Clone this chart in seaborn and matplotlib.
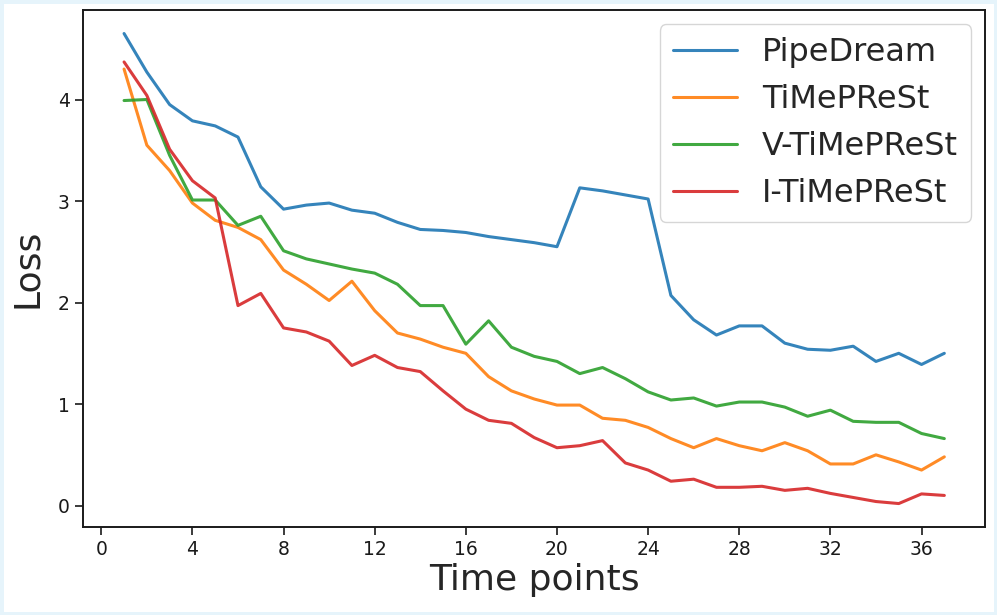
import numpy as np
import pandas as pd
import seaborn as sns
import matplotlib.pyplot as plt
from matplotlib.patches import Rectangle

# values, time points 1..37
time_points = list(range(1, 38))
pipedream = [4.65, 4.27, 3.95, 3.79, 3.74, 3.63, 3.14, 2.92, 2.96, 2.98,
             2.91, 2.88, 2.79, 2.72, 2.71, 2.69, 2.65, 2.62, 2.59, 2.55,
             3.13, 3.10, 3.06, 3.02, 2.07, 1.83, 1.68, 1.77, 1.77, 1.60,
             1.54, 1.53, 1.57, 1.42, 1.50, 1.39, 1.50]
timeprest = [4.30, 3.55, 3.30, 2.98, 2.81, 2.74, 2.62, 2.32, 2.18, 2.02,
             2.21, 1.92, 1.70, 1.64, 1.56, 1.50, 1.27, 1.13, 1.05, 0.99,
             0.99, 0.86, 0.84, 0.77, 0.66, 0.57, 0.66, 0.59, 0.54, 0.62,
             0.54, 0.41, 0.41, 0.50, 0.43, 0.35, 0.48]
v_timeprest = [3.99, 4.00, 3.45, 3.01, 3.01, 2.76, 2.85, 2.51, 2.43, 2.38,
               2.33, 2.29, 2.18, 1.97, 1.97, 1.59, 1.82, 1.56, 1.47, 1.42,
               1.30, 1.36, 1.25, 1.12, 1.04, 1.06, 0.98, 1.02, 1.02, 0.97,
               0.88, 0.94, 0.83, 0.82, 0.82, 0.71, 0.66]
i_timeprest = [4.37, 4.04, 3.51, 3.20, 3.03, 1.97, 2.09, 1.75, 1.71, 1.62,
               1.38, 1.48, 1.36, 1.32, 1.13, 0.95, 0.84, 0.81, 0.67, 0.57,
               0.59, 0.64, 0.42, 0.35, 0.24, 0.26, 0.18, 0.18, 0.19, 0.15,
               0.17, 0.12, 0.08, 0.04, 0.02, 0.115, 0.10]
methods = ["PipeDream", "TiMePReSt", "V-TiMePReSt", "I-TiMePReSt"]

df = pd.DataFrame({
    "Time points": time_points * 4,
    "Loss": pipedream + timeprest + v_timeprest + i_timeprest,
    "Method": [m for m in methods for _ in time_points],
})

sns.set_style("ticks")
plt.rcParams['font.family'] = ['DejaVu Sans']

fig = plt.figure(figsize=(9.97, 6.15), dpi=100)
ax = fig.add_axes([0.0833, 0.143, 0.905, 0.8407])

sns.lineplot(data=df, x="Time points", y="Loss", hue="Method",
             hue_order=methods, palette="tab10", linewidth=2.2, alpha=0.9,
             ax=ax)

ax.set_xticks(range(0, 37, 4))
ax.set_yticks(range(0, 5))
ax.tick_params(labelsize=13.5, length=6, width=1.2, colors="#1a1a1a")
for sp in ax.spines.values():
    sp.set_linewidth(1.4)
    sp.set_color("#1a1a1a")
ax.set_xlabel("Time points", fontsize=26, labelpad=3)
ax.set_ylabel("Loss", fontsize=26, labelpad=10)

leg = ax.legend(loc="upper right", fontsize=23, handlelength=2.0,
                frameon=True, borderaxespad=0.45, labelspacing=0.5)
leg.get_frame().set_edgecolor("#cccccc")
for line in leg.get_lines():
    line.set_linewidth(2.2)
    line.set_alpha(0.9)

# light blue frame around the picture
fig.patches.append(Rectangle((0, 0), 1, 1, transform=fig.transFigure,
                             fill=False, edgecolor="#e6f4fb", linewidth=5))

fig.savefig("out.png", dpi=100)
